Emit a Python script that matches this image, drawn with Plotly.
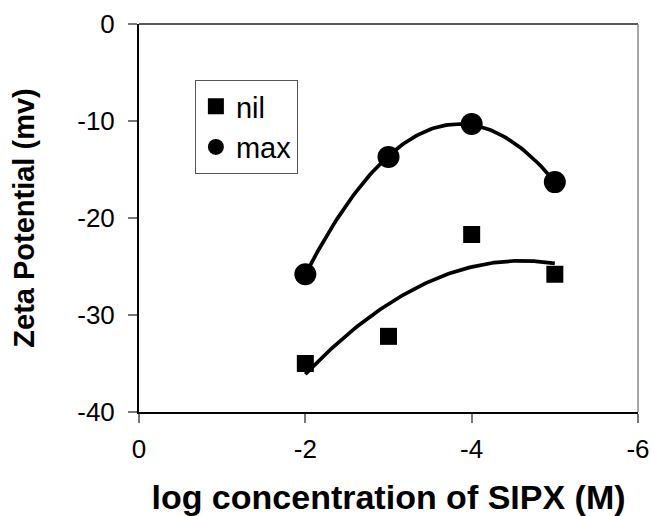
import numpy as np
import plotly.graph_objects as go

# Data
log_conc = [-2, -3, -4, -5]
zeta_nil = [-35.0, -32.2, -21.7, -25.8]
zeta_max = [-25.8, -13.7, -10.3, -16.3]

x_ticks = [0, -2, -4, -6]
y_ticks = [0, -10, -20, -30, -40]

FONT = "Liberation Sans, Arial, sans-serif"

# Quadratic (polynomial order 2) trendlines fitted to each series
xs = np.linspace(min(log_conc), max(log_conc), 120)
fit_nil = np.polyval(np.polyfit(log_conc, zeta_nil, 2), xs)
fit_max = np.polyval(np.polyfit(log_conc, zeta_max, 2), xs)

fig = go.Figure()

fig.add_trace(go.Scatter(x=xs, y=fit_max, mode="lines",
                         line=dict(color="black", width=3.7),
                         showlegend=False, hoverinfo="skip"))
fig.add_trace(go.Scatter(x=xs, y=fit_nil, mode="lines",
                         line=dict(color="black", width=3.7),
                         showlegend=False, hoverinfo="skip"))

fig.add_trace(go.Scatter(x=log_conc, y=zeta_nil, mode="markers", name="nil",
                         legendgroup="nil",
                         marker=dict(symbol="square", size=17, color="black")))
fig.add_trace(go.Scatter(x=log_conc, y=zeta_max, mode="markers", name="max",
                         legendgroup="max",
                         marker=dict(symbol="circle", size=22, color="black")))

# thin frame on top and right
fig.add_shape(type="line", xref="paper", yref="paper", x0=0, x1=1, y0=1, y1=1,
              line=dict(color="#222222", width=1.5))
fig.add_shape(type="line", xref="paper", yref="paper", x0=1, x1=1, y0=0, y1=1,
              line=dict(color="#888888", width=1.5))

fig.update_layout(
    width=651, height=516,
    margin=dict(l=139, r=13, t=24, b=104, autoexpand=False),
    paper_bgcolor="white", plot_bgcolor="white",
    font=dict(family=FONT, color="black"),
    legend=dict(
        x=0.112, y=0.856, xanchor="left", yanchor="top",
        bordercolor="#555555", borderwidth=1, bgcolor="white",
        font=dict(family=FONT, size=29, color="black"),
        tracegroupgap=0,
    ),
    xaxis=dict(
        range=[0, -6], tickvals=x_ticks, ticktext=[str(v) for v in x_ticks],
        showgrid=False, zeroline=False, automargin=False,
        showline=True, linecolor="black", linewidth=2,
        ticks="outside", ticklen=9, tickcolor="#777777", tickwidth=1.5,
        tickfont=dict(family=FONT, size=26, color="black"),
        ticklabelstandoff=4,
        title=dict(text="<b>log concentration of SIPX (M)</b>",
                   font=dict(family=FONT, size=34, color="black"), standoff=26),
    ),
    yaxis=dict(
        range=[-40, 0], tickvals=y_ticks, ticktext=[str(v) for v in y_ticks],
        showgrid=False, zeroline=False, automargin=False,
        showline=True, linecolor="black", linewidth=2,
        ticks="outside", ticklen=9, tickcolor="#777777", tickwidth=1.5,
        tickfont=dict(family=FONT, size=26, color="black"),
        ticklabelstandoff=8,
        title=dict(text="<b>Zeta Potential (mv)</b>",
                   font=dict(family=FONT, size=29, color="black"), standoff=34),
    ),
)

fig.write_html("out.html")
